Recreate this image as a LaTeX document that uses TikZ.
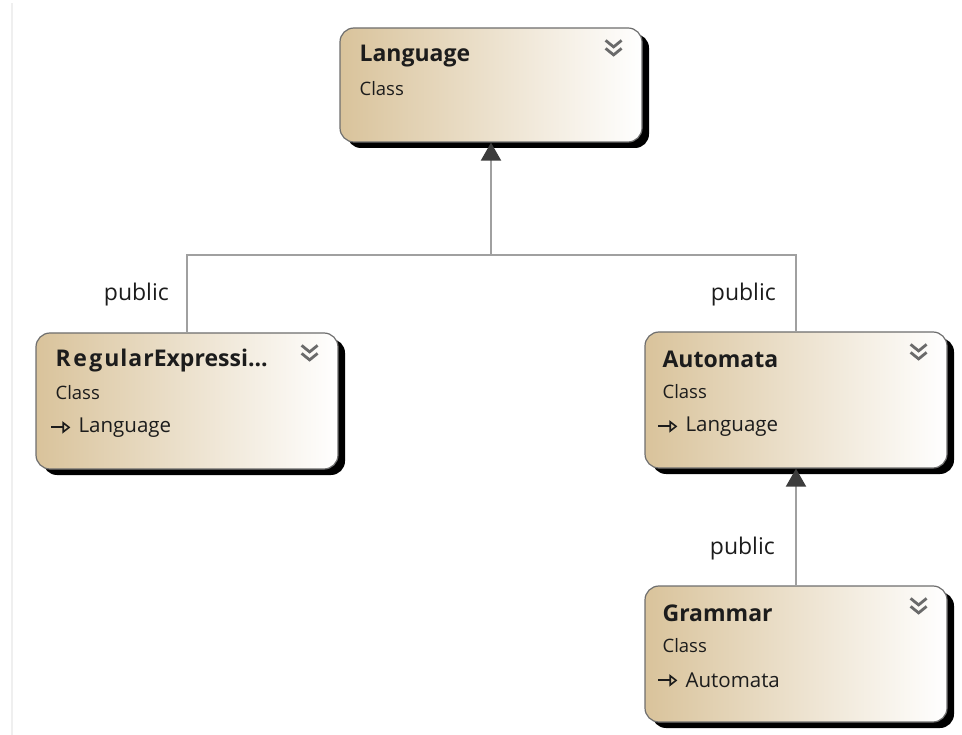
\documentclass[tikz,border=0pt]{standalone}
\usepackage{fontspec}
\setmainfont{Open Sans}
\usetikzlibrary{shadows,arrows.meta,calc}

\definecolor{tanleft}{HTML}{D9C39B}
\definecolor{boxline}{HTML}{6E6E6E}
\definecolor{ink}{HTML}{1C1C1C}
\definecolor{linegray}{HTML}{A0A0A0}
\definecolor{tipdark}{HTML}{3C3C3C}
\definecolor{chevgray}{HTML}{6A6A6A}
\definecolor{edgegray}{HTML}{EFEFEF}

\tikzset{
  classbox/.style={rectangle, rounded corners=14pt, draw=boxline, line width=1.2pt,
    left color=tanleft, right color=white, minimum width=302pt, minimum height=136pt,
    inner sep=0pt,
    drop shadow={shadow xshift=7pt, shadow yshift=-6pt, fill=black, opacity=1}},
  classtitle/.style={font=\bfseries\fontsize{23}{27}\selectfont, anchor=west, inner sep=0pt, text=ink},
  classkind/.style={font=\fontsize{18.5}{22}\selectfont, anchor=west, inner sep=0pt, text=ink},
  baseitem/.style={font=\fontsize{20.5}{24}\selectfont, anchor=west, inner sep=0pt, text=ink},
  chev/.style={draw=chevgray, line width=2.8pt},
  inhicon/.style={draw=ink, line width=2pt, -{Triangle[open, length=8pt, width=12pt, line width=1.6pt]}},
  conn/.style={draw=linegray, line width=2pt},
  inherit/.style={conn, -{Triangle[length=18pt, width=20pt, color=tipdark]}},
  vislabel/.style={font=\fontsize{23}{27}\selectfont, text=ink, inner sep=0pt}
}

\begin{document}
\begin{tikzpicture}[x=1pt, y=-1pt]
\useasboundingbox (0,0) rectangle (962,735);

% faint frame edge on the left
\draw[edgegray, line width=2pt] (12,3) -- (12,735);

% class boxes
\node[classbox, minimum height=114pt] (lang) at (491,85) {};
\node[classbox] (regex) at (187,401) {};
\node[classbox] (auto) at (796,400) {};
\node[classbox] (gram) at (796,654) {};

% texts of Language
\node[classtitle] (langT) at ($(lang.north west)+(20,29)$) {Language};
\node[classkind]  (langK) at ($(lang.north west)+(20,61)$) {Class};

% texts of RegularExpression
\node[classtitle] (regexT) at ($(regex.north west)+(20,28)$)
  {R\kern2.5pt e\kern2.5pt g\kern2pt u\kern1pt l\kern1pt a\kern1pt rExpressi...};
\node[classkind]  (regexK) at ($(regex.north west)+(20,60)$) {Class};
\node[baseitem]   (regexB) at ($(regex.north west)+(43,95)$) {Language};
\draw[inhicon] ($(regex.north west)+(16,95)$) -- ($(regexB.west)+(-8,0)$);

% texts of Automata
\node[classtitle] (autoT) at ($(auto.north west)+(18,28)$) {Automata};
\node[classkind]  (autoK) at ($(auto.north west)+(18,60)$) {Class};
\node[baseitem]   (autoB) at ($(auto.north west)+(41,95)$) {Language};
\draw[inhicon] ($(auto.north west)+(14,95)$) -- ($(autoB.west)+(-8,0)$);

% texts of Grammar
\node[classtitle] (gramT) at ($(gram.north west)+(18,28)$) {Grammar};
\node[classkind]  (gramK) at ($(gram.north west)+(18,60)$) {Class};
\node[baseitem]   (gramB) at ($(gram.north west)+(41,95)$) {Automata};
\draw[inhicon] ($(gram.north west)+(14,95)$) -- ($(gramB.west)+(-8,0)$);

% collapse chevrons
\foreach \b in {lang,regex,auto,gram}{
  \draw[chev] ($(\b.north east)+(-37,13)$) -- ++(8,6.5) -- ++(8,-6.5);
  \draw[chev] ($(\b.north east)+(-37,21)$) -- ++(8,6.5) -- ++(8,-6.5);
}

% inheritance connectors
\coordinate (join) at ($(lang.south)+(0,112)$);
\draw[conn] (regex.north) |- (join);
\draw[conn] (auto.north) |- (join);
\draw[inherit] (join) -- (lang.south);
\draw[inherit] (gram.north) -- (auto.south);

% visibility labels
\node[vislabel, anchor=east] (pubR) at ($(regex.north)+(-18,-38)$) {public};
\node[vislabel, anchor=east] (pubA) at ($(auto.north)+(-20,-37)$) {public};
\node[vislabel, anchor=east] (pubG) at ($(gram.north)+(-21,-37)$) {public};
\end{tikzpicture}
\end{document}
